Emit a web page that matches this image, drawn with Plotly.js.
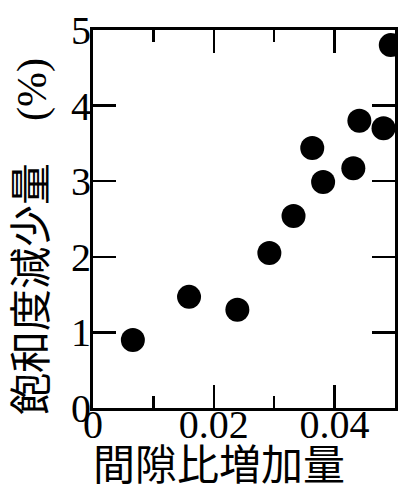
<!DOCTYPE html>
<html>
<head>
<meta charset="utf-8">
<script src="https://cdn.plot.ly/plotly-3.0.1.min.js"></script>
<style>html,body{margin:0;padding:0;background:#fff;}#chart{width:398px;height:487px;}</style>
</head>
<body>
<div id="chart"></div>
<script>
// Data
const voidRatioIncrease = [0.0066, 0.0159, 0.0239, 0.0292, 0.0332, 0.0363, 0.0381, 0.0431, 0.0441, 0.0481, 0.0493];
const saturationDecrease = [0.90, 1.47, 1.30, 2.05, 2.54, 3.44, 2.99, 3.17, 3.80, 3.70, 4.80];
const xTickVals = [0, 0.02, 0.04];
const xTickText = ['0', '0.02', '0.04'];
const yTickVals = [0, 1, 2, 3, 4, 5];
const yTickText = ['0', '1', '2', '3', '4', '5'];
const xTitle = '間隙比増加量';
const yTitle = '飽和度減少量　(%)';

const fontFam = '"Liberation Serif", "Noto Sans CJK JP", serif';

const trace = {
  x: voidRatioIncrease,
  y: saturationDecrease,
  type: 'scatter',
  mode: 'markers',
  marker: {color: '#000', size: 24, line: {width: 0}},
  cliponaxis: false,
  hoverinfo: 'skip'
};

const layout = {
  width: 398, height: 487,
  margin: {l: 93, r: 3, t: 30, b: 79},
  paper_bgcolor: '#fff', plot_bgcolor: '#fff',
  showlegend: false,
  font: {family: fontFam, color: '#000'},
  xaxis: {
    range: [0, 0.05],
    tickvals: xTickVals, ticktext: xTickText,
    ticks: 'inside', ticklen: 23, tickwidth: 2.5, tickcolor: '#000',
    minor: {dtick: 0.01, tick0: 0, ticks: 'inside', ticklen: 12, tickwidth: 2.5, tickcolor: '#000'},
    showline: true, linewidth: 3, linecolor: '#000', mirror: 'ticks',
    showgrid: false, zeroline: false,
    ticklabelstandoff: -21,
    tickfont: {family: fontFam, size: 40, color: '#000'}
  },
  yaxis: {
    range: [0, 5],
    tickvals: yTickVals, ticktext: yTickText,
    ticks: 'inside', ticklen: 23, tickwidth: 2.5, tickcolor: '#000',
    showline: true, linewidth: 3, linecolor: '#000', mirror: 'ticks',
    showgrid: false, zeroline: false,
    ticklabelstandoff: -9,
    tickfont: {family: fontFam, size: 40, color: '#000'}
  },
  annotations: [
    {text: xTitle, xref: 'paper', yref: 'paper', x: 0.417, y: -0.154,
     xanchor: 'center', yanchor: 'middle', showarrow: false,
     font: {family: fontFam, size: 42, color: '#000'}},
    {text: yTitle, xref: 'paper', yref: 'paper', x: -0.202, y: 0.455,
     xanchor: 'center', yanchor: 'middle', showarrow: false, textangle: -90,
     font: {family: fontFam, size: 42, color: '#000'}}
  ]
};

Plotly.newPlot('chart', [trace], layout, {staticPlot: true, displayModeBar: false});
</script>
</body>
</html>
